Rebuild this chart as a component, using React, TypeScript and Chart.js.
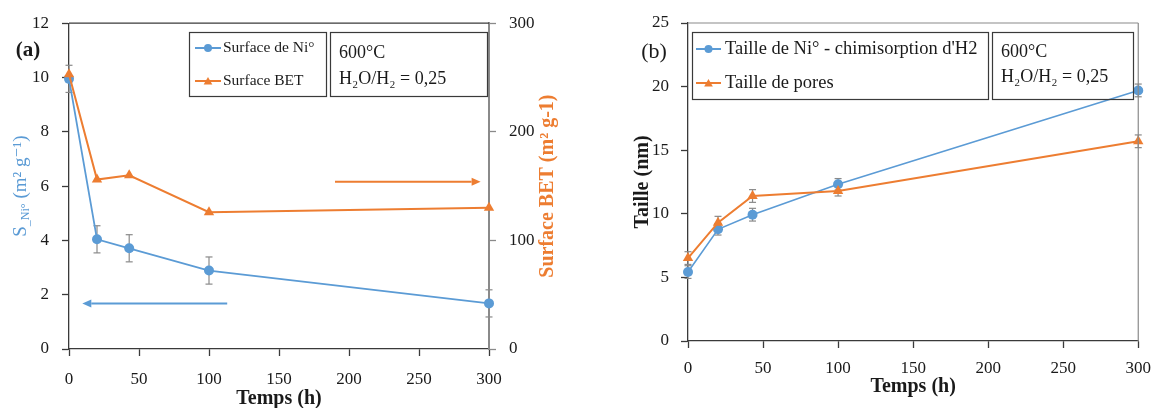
import React, { useEffect, useRef } from "react";
import { Chart, registerables } from "chart.js";
Chart.register(...registerables);

// ---------------- Data ----------------
const hours = [0, 20, 43, 100, 300];
const niSurface = [9.95, 4.04, 3.71, 2.89, 1.68];
const niSurfaceErr = [0.5, 0.5, 0.5, 0.5, 0.5];
const betSurface = [253, 156, 160, 126, 130];
const niSize = [5.42, 8.78, 9.93, 12.32, 19.7];
const niSizeErr = [0.5, 0.45, 0.5, 0.45, 0.5];
const poreSize = [6.52, 9.3, 11.4, 11.8, 15.7];
const poreSizeErr = [0.5, 0.5, 0.5, 0.4, 0.5];

const timeTicks = [0, 50, 100, 150, 200, 250, 300];
const niSurfaceTicks = [0, 2, 4, 6, 8, 10, 12];
const betTicks = [0, 100, 200, 300];
const sizeTicks = [0, 5, 10, 15, 20, 25];

const legendA = ["Surface de Ni°", "Surface BET"];
const legendB = ["Taille de Ni° - chimisorption d'H2", "Taille de pores"];
const conditions = ["600°C", "H₂O/H₂ = 0,25"];

// arrows (data coordinates): [x, y]
const niArrowFrom = [113, 1.68];
const niArrowTo = [9.5, 1.68];
const betArrowFrom = [190, 154];
const betArrowTo = [294, 154];

// ---------------- Styles ----------------
const BLUE = "#5B9BD5";
const ORANGE = "#ED7D31";
const AXIS = "#3a3a3a";
const GREY = "#8a8a8a";
const TXT = "#1a1a1a";
const SERIF = '"Liberation Serif", "DejaVu Serif", serif';

const pts = (xs: number[], ys: number[]) => xs.map((x, i) => ({ x, y: ys[i] }));

function setTicks(values: number[]) {
  return (s: any) => {
    s.ticks = values.map((v) => ({ value: v }));
  };
}

function line(ctx: any, x1: number, y1: number, x2: number, y2: number) {
  ctx.beginPath();
  ctx.moveTo(x1, y1);
  ctx.lineTo(x2, y2);
  ctx.stroke();
}

function arrow(ctx: any, x1: number, y1: number, x2: number, y2: number, color: string) {
  const ang = Math.atan2(y2 - y1, x2 - x1);
  const hl = 9;
  const hw = 4;
  const bx = x2 - hl * Math.cos(ang);
  const by = y2 - hl * Math.sin(ang);
  ctx.strokeStyle = color;
  ctx.fillStyle = color;
  ctx.lineWidth = 2;
  line(ctx, x1, y1, bx, by);
  ctx.beginPath();
  ctx.moveTo(x2, y2);
  ctx.lineTo(bx + hw * Math.sin(ang), by - hw * Math.cos(ang));
  ctx.lineTo(bx - hw * Math.sin(ang), by + hw * Math.cos(ang));
  ctx.closePath();
  ctx.fill();
}

function marker(ctx: any, style: string, x: number, y: number, r: number, color: string) {
  ctx.fillStyle = color;
  ctx.beginPath();
  if (style === "circle") {
    ctx.arc(x, y, r, 0, Math.PI * 2);
  } else {
    let rad = 0;
    ctx.moveTo(x + Math.sin(rad) * r, y - Math.cos(rad) * r);
    rad += (2 * Math.PI) / 3;
    ctx.lineTo(x + Math.sin(rad) * r, y - Math.cos(rad) * r);
    rad += (2 * Math.PI) / 3;
    ctx.lineTo(x + Math.sin(rad) * r, y - Math.cos(rad) * r);
    ctx.closePath();
  }
  ctx.fill();
}

function drawLegend(
  ctx: any,
  box: number[],
  entries: string[],
  styles: string[],
  colors: string[],
  rowsY: number[],
  sample: number[],
  fontPx: number,
  textX: number
) {
  ctx.save();
  ctx.strokeStyle = AXIS;
  ctx.lineWidth = 1.2;
  ctx.strokeRect(box[0] + 0.5, box[1] + 0.5, box[2] - box[0], box[3] - box[1]);
  ctx.font = `${fontPx}px ${SERIF}`;
  ctx.textBaseline = "middle";
  ctx.textAlign = "left";
  entries.forEach((label, i) => {
    const y = rowsY[i];
    ctx.strokeStyle = colors[i];
    ctx.lineWidth = 2;
    line(ctx, sample[0], y, sample[1], y);
    marker(ctx, styles[i], (sample[0] + sample[1]) / 2, y + (styles[i] === "triangle" ? 1 : 0), styles[i] === "triangle" ? 5 : 4, colors[i]);
    ctx.fillStyle = TXT;
    ctx.fillText(label, textX, y);
  });
  ctx.restore();
}

function drawConditions(ctx: any, box: number[], x: number, ys: number[], fontPx: number) {
  ctx.save();
  ctx.strokeStyle = AXIS;
  ctx.lineWidth = 1.2;
  ctx.strokeRect(box[0] + 0.5, box[1] + 0.5, box[2] - box[0], box[3] - box[1]);
  ctx.font = `${fontPx}px ${SERIF}`;
  ctx.textBaseline = "middle";
  ctx.textAlign = "left";
  ctx.fillStyle = TXT;
  conditions.forEach((t, i) => ctx.fillText(t, x, ys[i]));
  ctx.restore();
}

function errorBarPlugin(errs: (number[] | null)[]) {
  return {
    id: "errbars",
    beforeDatasetsDraw(chart: any) {
      const ctx = chart.ctx;
      ctx.save();
      ctx.strokeStyle = GREY;
      ctx.lineWidth = 1.2;
      chart.data.datasets.forEach((ds: any, i: number) => {
        const e = errs[i];
        if (!e) return;
        const meta = chart.getDatasetMeta(i);
        const xs = chart.scales[meta.xAxisID];
        const ys = chart.scales[meta.yAxisID];
        ds.data.forEach((p: any, j: number) => {
          const x = xs.getPixelForValue(p.x);
          const yt = ys.getPixelForValue(p.y + e[j]);
          const yb = ys.getPixelForValue(p.y - e[j]);
          line(ctx, x, yt, x, yb);
          line(ctx, x - 3.5, yt, x + 3.5, yt);
          line(ctx, x - 3.5, yb, x + 3.5, yb);
        });
      });
      ctx.restore();
    },
  };
}

function axisOpts(ticks: number[], color: string, pad: number, fit: (s: any) => void, position: string) {
  return {
    type: "linear",
    position,
    min: ticks[0],
    max: ticks[ticks.length - 1],
    afterBuildTicks: setTicks(ticks),
    afterFit: fit,
    ticks: {
      font: { family: SERIF, size: 17 },
      color: TXT,
      padding: pad,
      maxRotation: 0,
      autoSkip: false,
    },
    grid: {
      drawOnChartArea: false,
      drawTicks: true,
      tickLength: 7,
      tickColor: color,
      tickWidth: 1.3,
    },
    border: { color, width: 1.3 },
  };
}

// ---------------- Chart (a) ----------------
function configA(): any {
  const annot = {
    id: "annotA",
    afterDraw(chart: any) {
      const { ctx, chartArea: a, scales } = chart;
      ctx.save();
      // top frame line
      ctx.strokeStyle = AXIS;
      ctx.lineWidth = 1.3;
      line(ctx, a.left, a.top, a.right, a.top);
      // panel label
      ctx.fillStyle = TXT;
      ctx.font = `bold 21px ${SERIF}`;
      ctx.textAlign = "center";
      ctx.textBaseline = "middle";
      ctx.fillText("(a)", 28, 51);
      // x title
      ctx.font = `bold 20px ${SERIF}`;
      ctx.fillText("Temps (h)", (a.left + a.right) / 2, a.bottom + 50);
      // left y title with subscript
      ctx.save();
      ctx.translate(21, (a.top + a.bottom) / 2);
      ctx.rotate(-Math.PI / 2);
      const parts = [
        { t: "S", f: `19px ${SERIF}`, dy: 0 },
        { t: "_Ni°", f: `12px ${SERIF}`, dy: 5 },
        { t: " (m² g⁻¹)", f: `19px ${SERIF}`, dy: 0 },
      ];
      let total = 0;
      parts.forEach((p) => {
        ctx.font = p.f;
        total += ctx.measureText(p.t).width;
      });
      let cx = -total / 2;
      ctx.fillStyle = BLUE;
      ctx.textAlign = "left";
      parts.forEach((p) => {
        ctx.font = p.f;
        ctx.fillText(p.t, cx, p.dy);
        cx += ctx.measureText(p.t).width;
      });
      ctx.restore();
      // right y title
      ctx.save();
      ctx.translate(548, (a.top + a.bottom) / 2);
      ctx.rotate(-Math.PI / 2);
      ctx.fillStyle = ORANGE;
      ctx.font = `bold 20px ${SERIF}`;
      ctx.textAlign = "center";
      ctx.textBaseline = "middle";
      ctx.fillText("Surface BET (m² g-1)", 0, 0);
      ctx.restore();
      // arrows
      const x = scales.x;
      arrow(ctx, x.getPixelForValue(niArrowFrom[0]), scales.y.getPixelForValue(niArrowFrom[1]), x.getPixelForValue(niArrowTo[0]), scales.y.getPixelForValue(niArrowTo[1]), BLUE);
      arrow(ctx, x.getPixelForValue(betArrowFrom[0]), scales.y1.getPixelForValue(betArrowFrom[1]), x.getPixelForValue(betArrowTo[0]), scales.y1.getPixelForValue(betArrowTo[1]), ORANGE);
      ctx.restore();
      // legend + conditions
      drawLegend(ctx, [189, 32, 326, 96], legendA, ["circle", "triangle"], [BLUE, ORANGE], [48, 81], [195, 221], 15.5, 223);
      drawConditions(ctx, [330, 32, 487, 96], 339, [53, 79], 18);
    },
  };
  return {
    type: "line",
    data: {
      datasets: [
        {
          label: legendA[0],
          data: pts(hours, niSurface),
          yAxisID: "y",
          borderColor: BLUE,
          backgroundColor: BLUE,
          borderWidth: 1.8,
          pointRadius: 5,
          pointStyle: "circle",
          pointBorderWidth: 0,
          order: 1,
          clip: false,
        },
        {
          label: legendA[1],
          data: pts(hours, betSurface),
          yAxisID: "y1",
          borderColor: ORANGE,
          backgroundColor: ORANGE,
          borderWidth: 2,
          pointRadius: 6,
          pointStyle: "triangle",
          pointBorderWidth: 0,
          order: 0,
          clip: false,
        },
      ],
    },
    options: {
      responsive: false,
      animation: false,
      devicePixelRatio: 1,
      layout: { padding: { top: 23, left: 0, right: 0, bottom: 0 }, autoPadding: false },
      plugins: { legend: { display: false }, tooltip: { enabled: false } },
      scales: {
        x: axisOpts(timeTicks, AXIS, 13, (s: any) => { s.height = 59; }, "bottom"),
        y: axisOpts(niSurfaceTicks, AXIS, 13, (s: any) => { s.width = 69; }, "left"),
        y1: {
          ...axisOpts(betTicks, GREY, 13, (s: any) => { s.width = 91; }, "right"),
          border: { color: GREY, width: 2 },
        },
      },
    },
    plugins: [errorBarPlugin([niSurfaceErr, null]), annot],
  };
}

// ---------------- Chart (b) ----------------
function configB(): any {
  const annot = {
    id: "annotB",
    afterDraw(chart: any) {
      const { ctx, chartArea: a } = chart;
      ctx.save();
      ctx.strokeStyle = GREY;
      ctx.lineWidth = 1.2;
      line(ctx, a.left, a.top, a.right, a.top);
      line(ctx, a.right, a.top, a.right, a.bottom);
      ctx.fillStyle = TXT;
      ctx.textAlign = "center";
      ctx.textBaseline = "middle";
      ctx.font = `22px ${SERIF}`;
      ctx.fillText("(b)", 74, 52);
      ctx.font = `bold 20px ${SERIF}`;
      ctx.fillText("Temps (h)", (a.left + a.right) / 2, a.bottom + 46);
      ctx.save();
      ctx.translate(63, (a.top + a.bottom) / 2);
      ctx.rotate(-Math.PI / 2);
      ctx.font = `bold 20px ${SERIF}`;
      ctx.fillText("Taille (nm)", 0, 0);
      ctx.restore();
      ctx.restore();
      drawLegend(ctx, [112, 32, 408, 99], legendB, ["circle", "triangle"], [BLUE, ORANGE], [49, 83], [116, 141], 18.5, 145);
      drawConditions(ctx, [412, 32, 553, 99], 421, [52, 77], 18);
    },
  };
  return {
    type: "line",
    data: {
      datasets: [
        {
          label: legendB[0],
          data: pts(hours, niSize),
          borderColor: BLUE,
          backgroundColor: BLUE,
          borderWidth: 1.6,
          pointRadius: 5,
          pointStyle: "circle",
          pointBorderWidth: 0,
          order: 1,
          clip: false,
        },
        {
          label: legendB[1],
          data: pts(hours, poreSize),
          borderColor: ORANGE,
          backgroundColor: ORANGE,
          borderWidth: 2,
          pointRadius: 6,
          pointStyle: "triangle",
          pointBorderWidth: 0,
          order: 0,
          clip: false,
        },
      ],
    },
    options: {
      responsive: false,
      animation: false,
      devicePixelRatio: 1,
      layout: { padding: { top: 23, left: 0, right: 15, bottom: 0 }, autoPadding: false },
      plugins: { legend: { display: false }, tooltip: { enabled: false } },
      scales: {
        x: axisOpts(timeTicks, AXIS, 10, (s: any) => { s.height = 67; }, "bottom"),
        y: axisOpts(sizeTicks, AXIS, 12, (s: any) => { s.width = 108; }, "left"),
      },
    },
    plugins: [errorBarPlugin([niSizeErr, poreSizeErr]), annot],
  };
}

export default function App() {
  const leftRef = useRef<HTMLCanvasElement | null>(null);
  const rightRef = useRef<HTMLCanvasElement | null>(null);
  useEffect(() => {
    const c1 = new Chart(leftRef.current as HTMLCanvasElement, configA());
    const c2 = new Chart(rightRef.current as HTMLCanvasElement, configB());
    return () => {
      c1.destroy();
      c2.destroy();
    };
  }, []);
  return (
    <div style={{ position: "absolute", left: 0, top: 0, width: 1161, height: 408, background: "#fff" }}>
      <canvas ref={leftRef} width={580} height={408} style={{ position: "absolute", left: 0, top: 0, width: 580, height: 408 }} />
      <canvas ref={rightRef} width={581} height={408} style={{ position: "absolute", left: 580, top: 0, width: 581, height: 408 }} />
    </div>
  );
}
